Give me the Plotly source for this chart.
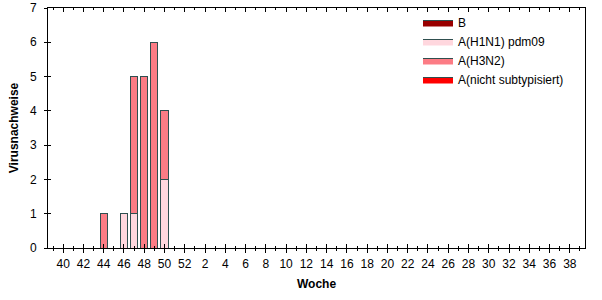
import plotly.graph_objects as go

# Season weeks shown on the x axis (week 39 .. 52, then 1 .. 39)
weeks = list(range(39, 53)) + list(range(1, 40))
# Weeks with detections and their counts per virus type
data_weeks = [44, 45, 46, 47, 48, 49, 50]
b_vals = [0, 0, 0, 0, 0, 0, 0]
h1n1_vals = [0, 0, 1, 1, 0, 0, 2]
h3n2_vals = [1, 0, 0, 4, 5, 6, 2]
nicht_vals = [0, 0, 0, 0, 0, 0, 0]

tick_pos = [i for i, w in enumerate(weeks) if w % 2 == 0]
tick_text = [str(weeks[i]) for i in tick_pos]
minor_pos = [i for i, w in enumerate(weeks) if w % 2 == 1]
x_pos = [weeks.index(w) for w in data_weeks]

edge = "#2F4F4F"
FONT = "Liberation Sans, Arial, sans-serif"

fig = go.Figure()
series = [
    ("A(H1N1) pdm09", h1n1_vals, "#FFD7DE", 2),
    ("A(H3N2)", h3n2_vals, "#FC7C85", 3),
    ("A(nicht subtypisiert)", nicht_vals, "#FF0000", 4),
    ("B", b_vals, "#990000", 1),
]
for name, vals, col, rank in series:
    fig.add_trace(go.Bar(
        x=x_pos, y=vals, name=name, width=0.7,
        marker=dict(color=col, line=dict(color=edge, width=1)),
        legendgroup=name, showlegend=False,
    ))
    # legend-only entry giving a wide flat swatch like the original
    fig.add_trace(go.Scatter(
        x=[None], y=[None], name=name, mode="lines", fill="toself",
        fillcolor=col, line=dict(color=edge, width=1),
        legendgroup=name, legendrank=rank, hoverinfo="skip",
    ))
# empty helper trace for the outer tick overlay axes
fig.add_trace(go.Scatter(x=[], y=[], xaxis="x2", yaxis="y2", showlegend=False))

xr = [-0.5, len(weeks) - 0.5]
yr = [0, 7]

fig.update_layout(
    width=602, height=300,
    margin=dict(l=48, r=17, t=8, b=52, autoexpand=False),
    paper_bgcolor="white", plot_bgcolor="white",
    barmode="stack",
    font=dict(family=FONT, size=12, color="black"),
    showlegend=True,
    legend=dict(x=0.689, y=1.0, xanchor="left", yanchor="top",
                font=dict(size=12, color="black"), bgcolor="rgba(0,0,0,0)",
                traceorder="normal", tracegroupgap=0),
    xaxis=dict(
        range=xr, showline=True, linecolor="black", linewidth=1, mirror="ticks",
        showgrid=False, zeroline=False, automargin=False,
        tickmode="array", tickvals=tick_pos, ticktext=tick_text,
        ticks="inside", ticklen=4, tickcolor="black", tickwidth=1,
        minor=dict(tickvals=minor_pos, ticks="inside", ticklen=2, tickcolor="black"),
        ticklabelstandoff=5,
        tickfont=dict(size=12, color="black"),
        title=dict(text="<b>Woche</b>", font=dict(size=12), standoff=9),
    ),
    yaxis=dict(
        range=yr, showline=True, linecolor="black", linewidth=1, mirror=True,
        showgrid=False, zeroline=False, automargin=False,
        tickmode="linear", tick0=0, dtick=1,
        ticks="inside", ticklen=3, tickcolor="black",
        ticklabelstandoff=8,
        tickfont=dict(size=12, color="black"),
        title=dict(text="<b>Virusnachweise</b>", font=dict(size=12), standoff=8),
    ),
    xaxis2=dict(
        overlaying="x", anchor="y2", side="bottom", range=xr,
        showline=False, showgrid=False, zeroline=False, showticklabels=False,
        tickmode="array", tickvals=tick_pos,
        ticks="outside", ticklen=4, tickcolor="black",
        minor=dict(tickvals=minor_pos, ticks="outside", ticklen=2, tickcolor="black"),
    ),
    yaxis2=dict(
        overlaying="y", anchor="x2", side="left", range=yr,
        showline=False, showgrid=False, zeroline=False, showticklabels=False,
        tickmode="linear", tick0=0, dtick=1,
        ticks="outside", ticklen=3, tickcolor="black",
    ),
)

fig.write_html("out.html")
